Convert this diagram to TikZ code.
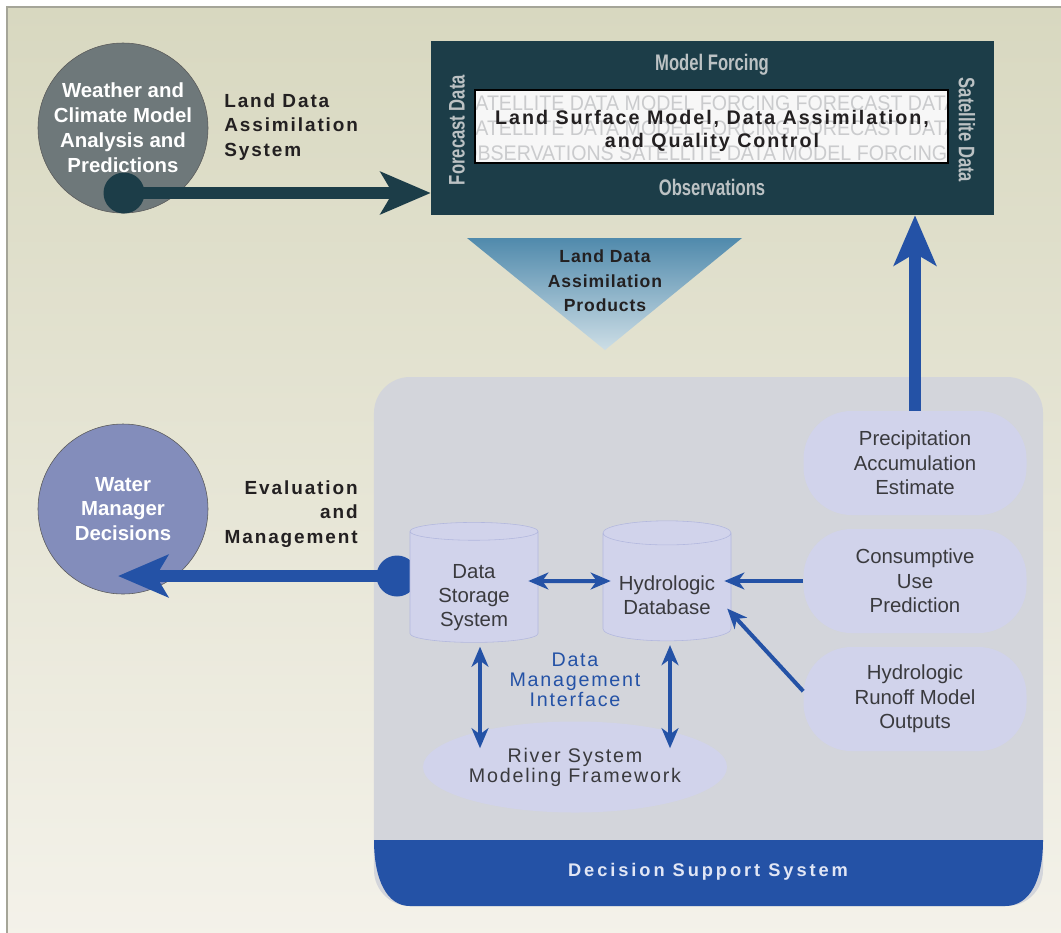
\documentclass[tikz,border=0pt]{standalone}
\usepackage{fontspec}
\setmainfont{Liberation Sans}
\newfontfamily\trackfont[LetterSpace=10]{Liberation Sans}
\newfontfamily\bartrack[LetterSpace=16]{Liberation Sans}
\newfontfamily\lighttrack[LetterSpace=5]{Liberation Sans}
\newfontfamily\lsmfont[LetterSpace=10]{Liberation Sans}
\newfontfamily\mgmtfont[LetterSpace=9]{Liberation Sans}
\newfontfamily\condfont[FakeStretch=0.74]{Liberation Sans}
\newfontfamily\wmfont[FakeStretch=0.93]{Liberation Sans}
\usetikzlibrary{arrows.meta,positioning,shapes.geometric}

\definecolor{ldasteal}{RGB}{28,61,72}
\definecolor{dssblue}{RGB}{36,82,166}
\definecolor{panelgray}{RGB}{211,213,219}
\definecolor{lavender}{RGB}{209,211,235}
\definecolor{storeline}{RGB}{178,183,222}
\definecolor{wcgray}{RGB}{110,120,122}
\definecolor{wmdblue}{RGB}{131,141,187}
\definecolor{labelink}{RGB}{35,32,33}
\definecolor{nodeink}{RGB}{58,58,62}
\definecolor{boxink}{RGB}{188,194,196}
\definecolor{wmgray}{RGB}{202,203,205}
\definecolor{bgtop}{RGB}{216,216,192}
\definecolor{bgbottom}{RGB}{244,242,234}
\definecolor{framegray}{RGB}{165,165,152}
\definecolor{triblue}{RGB}{80,138,172}
\definecolor{trilight}{RGB}{205,222,230}
\definecolor{barink}{RGB}{225,230,245}

% text of a storage cylinder sits low, in the body under the lid
\newcommand\storelabel[1]{\raisebox{-2.65mm}[\height][\depth]{\begin{tabular}{@{}c@{}}#1\end{tabular}}}

\begin{document}
\begin{tikzpicture}[x=0.25mm,y=-0.25mm,inner sep=0pt,on grid]
  \tikzstyle{bigdisc}=[circle, draw=black!65, thin, minimum size=42.5mm, text=white,
    align=center, font=\bfseries\fontsize{14.5}{17.7}\selectfont]
  \tikzstyle{dot}=[circle, minimum size=10.25mm]
  \tikzstyle{caption}=[text=labelink, font=\trackfont\bfseries\fontsize{13.5}{17.6}\selectfont]
  \tikzstyle{boxlabel}=[text=boxink, font=\condfont\bfseries\fontsize{16}{18}\selectfont]
  \tikzstyle{wmrow}=[text=wmgray, anchor=west, font=\wmfont\fontsize{15}{15}\selectfont]
  \tikzstyle{choice}=[rectangle, rounded corners=12mm, fill=lavender, minimum width=55.75mm,
    minimum height=26mm, align=center, text=nodeink, font=\fontsize{14.5}{17.5}\selectfont]
  \tikzstyle{store}=[cylinder, shape border rotate=90, aspect=0.25, fill=lavender,
    draw=storeline, thin, minimum width=32mm, minimum height=30mm, text=nodeink,
    font=\fontsize{14.5}{17.4}\selectfont]
  \tikzstyle{fatarrow}=[line width=3.2mm, -{Stealth[length=12.5mm, width=10.5mm, inset=3mm]}]
  \tikzstyle{link}=[line width=1mm, dssblue, -{Stealth[length=5mm, width=4.2mm, inset=1.5mm]}]
  \tikzstyle{twoway}=[link, {Stealth[length=5mm, width=4.2mm, inset=1.5mm]}-{Stealth[length=5mm, width=4.2mm, inset=1.5mm]}]

  \useasboundingbox (0,0) rectangle (1061,932);
  \shade[top color=bgtop, bottom color=bgbottom] (7,7) rectangle (1075,945);
  \draw[line width=0.5mm, framegray] (7,945) -- (7,7) -- (1075,7);

  % decision support panel
  \node[rectangle, rounded corners=9mm, fill=panelgray, minimum width=167.25mm,
    minimum height=132.25mm] (dsspanel) at (708.5,641.5) {};
  \fill[dssblue] (374,840) -- (1043,840) .. controls (1043,880) and (1030,906) .. (1005,906)
    -- (410,906) .. controls (387,906) and (374,880) .. (374,840) -- cycle;
  \node[text=barink, font=\bartrack\bfseries\fontsize{13}{15}\selectfont] (dsstitle) at (708,872) {Decision Support System};

  % forecasts feeding the assimilation system
  \node[bigdisc, fill=wcgray] (wcm) at (123,128) {Weather and\\Climate Model\\Analysis and\\Predictions};
  \node[dot, fill=ldasteal] (wcdot) at (124,193) {};
  \node[caption, align=left, anchor=west] (ldas) at (224,127) {Land Data\\Assimilation\\System};

  \node[fill=ldasteal, minimum width=140.75mm, minimum height=43.5mm] (lds) at (712.5,128) {};
  \node[boxlabel] (forcing) at (712,65) {Model Forcing};
  \node[boxlabel] (obs) at (712,187) {Observations};
  \node[boxlabel, rotate=90] (fcst) at (457,130) {Forecast Data};
  \node[boxlabel, rotate=-90] (sat) at (967,130) {Satellite Data};
  \node[fill=white!97!black, minimum width=118.25mm, minimum height=18.25mm] (lsmbox) at (711.5,126.5) {};
  \begin{scope}
    \clip (lsmbox.south west) rectangle (lsmbox.north east);
    \foreach \i/\yy/\words in {1/103/{SATELLITE DATA MODEL FORCING FORECAST DATA},
        2/128/{SATELLITE DATA MODEL FORCING FORECAST DATA},
        3/153/{OBSERVATIONS SATELLITE DATA MODEL FORCING}}
      \node[wmrow] (wm\i) at (462,\yy) {\words};
  \end{scope}
  \node[draw=black, line width=0.4mm, minimum width=118.25mm, minimum height=18.25mm]
    (lsm) at (lsmbox) {};
  \node[align=center, text=labelink, font=\lsmfont\bfseries\fontsize{14}{16.5}\selectfont]
    (lsmtitle) at (712,131) {Land Surface Model, Data Assimilation,\\and Quality Control};

  \shade[top color=triblue, bottom color=trilight] (467,238) -- (742,238) -- (605,350) -- cycle;
  \node[text=labelink, align=center, font=\lighttrack\bfseries\fontsize{12.5}{17.4}\selectfont]
    (ldap) at (605,281) {Land Data\\Assimilation\\Products};

  % decisions side
  \node[bigdisc, fill=wmdblue] (wmd) at (123,509) {Water\\Manager\\Decisions};
  \node[caption, align=right, anchor=east] (evm) at (358,514) {Evaluation\\and\\Management};
  \node[dot, fill=dssblue] (evdot) at (397,576) {};

  \node[choice] (pae) at (915,463) {Precipitation\\Accumulation\\Estimate};
  \node[choice, below=29.5mm of pae] (cup) {Consumptive\\Use\\Prediction};
  \node[choice, below=29.5mm of cup] (hro) {Hydrologic\\Runoff Model\\Outputs};

  \node[store] (dss) at (474,587) {\storelabel{Data\\Storage\\System}};
  \node[store, right=48.25mm of dss] (hdb) {\storelabel{Hydrologic\\Database}};
  \node[ellipse, fill=lavender, minimum width=76mm, minimum height=22.75mm, align=center,
    text=nodeink, font=\mgmtfont\fontsize{14}{14.3}\selectfont] (rsm) at (575,767)
    {River System\\Modeling Framework};
  \node[text=dssblue, align=center, font=\mgmtfont\fontsize{14}{14.3}\selectfont]
    (dmi) at (575,680) {Data\\Management\\Interface};

  \draw[fatarrow, ldasteal] (wcdot.center) -- (wcdot.center -| lds.west);
  \draw[fatarrow, dssblue] (pae.north) -- (pae.north |- lds.south);
  \draw[fatarrow, dssblue, shorten >=-1.25mm] (evdot.center) -- (evdot.center -| wmd.center);

  \draw[twoway, shorten <=-2.5mm, shorten >=-2mm]
    ([yshift=1.5mm]dss.east) -- ([yshift=1.5mm]hdb.west);
  \draw[link, shorten >=-1.75mm] (cup.west) -- (cup.west -| hdb.east);
  \draw[link, shorten >=-1.5mm] (hro.176) -- (hdb.-22);
  \draw[twoway, shorten <=1mm, shorten >=-6.75mm]
    ([xshift=1.5mm]dss.south) -- ([xshift=1.5mm]dss.south |- rsm.north);
  \draw[twoway, shorten <=1mm, shorten >=-6.75mm]
    ([xshift=0.75mm]hdb.south) -- ([xshift=0.75mm]hdb.south |- rsm.north);
\end{tikzpicture}
\end{document}
